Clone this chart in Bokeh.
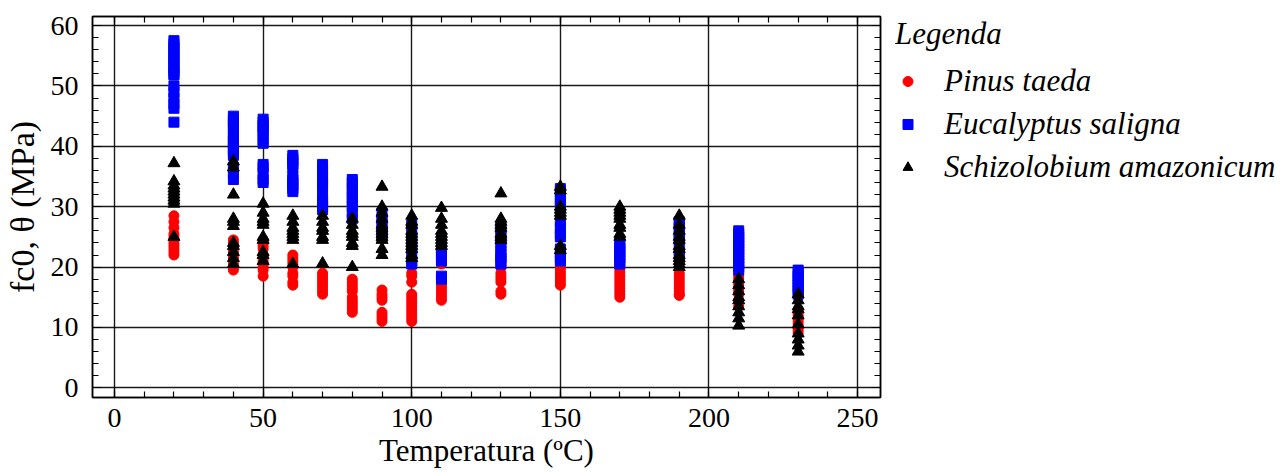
from bokeh.plotting import figure
from bokeh.layouts import row
from bokeh.models import Range1d, LinearAxis, SingleIntervalTicker, Legend, LegendItem, ColumnDataSource
from bokeh.embed import file_html
from bokeh.resources import INLINE

# ---------------- data ----------------
temperatures = [20, 40, 50, 60, 70, 80, 90, 100, 110, 130, 150, 170, 190, 210, 230]

pinus_taeda = [
    [28.5, 27.5, 26.5, 25.5, 25, 24.5, 24, 23.5, 23, 22.5, 22],
    [24.5, 24, 23.5, 23, 22.5, 22, 21.5, 21, 20.5, 20, 19.5],
    [24.5, 24, 23.5, 23, 22, 21.5, 21, 20.5, 20, 19.5, 18.5],
    [22, 21.5, 21, 20.5, 20, 19, 18.5, 17.5, 17],
    [19, 18.5, 18, 17.5, 17, 16.5, 16, 15.5],
    [18, 17.5, 17, 16.5, 16, 15, 14.5, 14, 13.5, 13, 12.5],
    [16.2, 15.5, 15, 14.5, 12.5, 12, 11.5, 11],
    [19, 18.5, 17.5, 15.5, 15, 14.5, 14, 13.5, 13, 12.5, 12, 11.5, 11],
    [20.5, 17.5, 17, 16.5, 16, 15.5, 15, 14.5],
    [20, 19, 18.5, 18, 17.5, 16, 15.5],
    [22, 20, 19.5, 19, 18.5, 18, 17.5, 17],
    [20, 19.5, 19, 18.5, 18, 17.5, 17, 16.5, 16, 15.5, 15],
    [22, 21, 19, 18.5, 18, 17.5, 17, 16.5, 16, 15.5, 15.3],
    [18.5, 18, 17.5, 17, 16.5, 16, 15.5, 14.5, 13.5],
    [13, 12.5, 12, 11.5, 11, 10.5, 10, 9.5, 9],
]

eucalyptus_saligna = [
    [57.5, 57, 56.5, 56, 55.5, 55, 54.5, 54, 53.5, 53, 52.5, 52, 51.8, 50, 49, 48, 47, 46.3, 44],
    [45, 44.5, 44, 43.5, 43, 42, 41.5, 41, 40.5, 40, 39.5, 39, 38.5, 36.5, 35.5, 34.5],
    [44.5, 44, 43.5, 43, 42.5, 42, 41, 40.5, 37, 36.5, 35.5, 34.5, 34],
    [38.5, 38, 37.5, 37, 36.5, 35, 34.5, 34, 33.5, 33, 32.5],
    [37, 36, 35, 34, 33.5, 32, 31, 30.5, 30, 29.5],
    [34.5, 34, 33, 32.5, 31.5, 31, 30, 29, 28],
    [29, 28, 27.5, 27, 26, 25.5, 25],
    [27, 26, 25, 24, 23, 22, 21, 20.5],
    [23, 22.5, 22, 21.5, 21, 18.5, 18],
    [26.5, 25.5, 25, 24, 23.5, 22.5, 22, 21.5, 21, 20.5],
    [33, 32.5, 31.5, 31, 30, 27.5, 26.5, 25.5, 25, 23, 22.5, 21.5, 21],
    [24, 23.5, 23, 22.5, 22, 21.5, 21, 20.5],
    [27.5, 27, 26.5, 25.5, 25, 24.5, 23, 22],
    [26, 25.5, 25, 24.5, 24, 23.5, 23, 22.5, 22, 21.5, 21, 20.5, 20, 19.5],
    [19.5, 19, 18.5, 18, 17.5, 17, 16.5, 16, 15.5],
]

schizolobium_amazonicum = [
    [37.2, 34.2, 33.5, 33, 32.5, 32, 31.5, 31, 30.5, 25],
    [37.5, 36.5, 32, 28, 27.5, 26.8, 24, 23.5, 22.5, 21.5, 20.5],
    [30.5, 29, 28, 27.5, 27, 25, 24.5, 22.5, 22, 21],
    [28.5, 27.5, 26.5, 26, 25.5, 25, 24.5, 20.5],
    [28.5, 27.5, 26.5, 26, 25, 24.5, 20.6],
    [28, 27, 26, 25.5, 25, 24, 23.5, 20],
    [33.3, 30, 29, 28, 27, 26.5, 26, 25.5, 25, 24.5, 23, 22],
    [28.5, 27.5, 27, 26, 25.5, 25, 24.5, 24, 23.5, 23, 22, 21.5],
    [29.8, 28, 27, 26, 25.5, 25, 24.5, 24, 23.5],
    [32.2, 28, 27.5, 27, 26.5, 25.5, 25, 24.5],
    [33.3, 32.7, 30, 29.5, 29, 28.5, 23.5, 22.8],
    [30, 29.5, 29, 28.5, 28, 27, 26.5, 25.5, 25],
    [28.5, 27, 26, 25, 24.5, 23.5, 23, 22, 21.5, 21, 20.5, 20],
    [18, 17, 16, 15, 14.5, 13.5, 12.5, 11.5, 10.3],
    [15.5, 14.5, 13.5, 13, 12, 10.5, 9, 8, 7, 6],
]

series_labels = ["Pinus taeda", "Eucalyptus saligna", "Schizolobium amazonicum"]
series_colors = ["#ff0000", "#0000ff", "black"]
series_markers = ["circle", "square", "triangle"]
x_ticks_interval = 50
y_ticks_interval = 10


def flatten(groups):
    xs, ys = [], []
    for t, vals in zip(temperatures, groups):
        for v in vals:
            xs.append(t)
            ys.append(v)
    return ColumnDataSource(dict(x=xs, y=ys))


FONT = "Liberation Serif"
sources = [flatten(g) for g in (pinus_taeda, eucalyptus_saligna, schizolobium_amazonicum)]

# ---------------- main plot ----------------
p = figure(width=895, height=476,
           x_range=Range1d(-7.4, 257.7), y_range=Range1d(-1.6, 61.5),
           output_backend="svg", toolbar_location=None,
           min_border_left=92, min_border_right=15,
           min_border_top=15, min_border_bottom=79)

xt = SingleIntervalTicker(interval=x_ticks_interval, num_minor_ticks=5)
yt = SingleIntervalTicker(interval=y_ticks_interval, num_minor_ticks=5)

bottom_axis = p.below[0]
left_axis = p.left[0]
bottom_axis.ticker = xt
left_axis.ticker = yt
p.xgrid.ticker = xt
p.ygrid.ticker = yt

top_axis = LinearAxis(ticker=xt)
right_axis = LinearAxis(ticker=yt)
p.add_layout(top_axis, "above")
p.add_layout(right_axis, "right")

for ax in (bottom_axis, left_axis, top_axis, right_axis):
    ax.major_tick_in = 9
    ax.major_tick_out = 0
    ax.minor_tick_in = 6
    ax.minor_tick_out = 0
    ax.axis_line_color = "black"
    ax.axis_line_width = 1.5
    ax.major_tick_line_color = "black"
    ax.minor_tick_line_color = "black"
    ax.major_tick_line_width = 1.2
    ax.minor_tick_line_width = 1.2
    ax.major_label_text_font = FONT
    ax.major_label_text_font_size = "28px"
    ax.major_label_text_color = "black"
    ax.axis_label_text_font = FONT
    ax.axis_label_text_font_style = "normal"
    ax.axis_label_text_color = "black"

for ax in (top_axis, right_axis):
    ax.major_label_text_font_size = "1px"
    ax.major_label_text_color = None
    ax.major_label_standoff = 0

bottom_axis.axis_label = "Temperatura (ºC)"
bottom_axis.axis_label_text_font_size = "31px"
bottom_axis.axis_label_standoff = 3
bottom_axis.major_label_standoff = 11

left_axis.axis_label = "fc0, θ (MPa)"
left_axis.axis_label_text_font_size = "34px"
left_axis.axis_label_standoff = 7
left_axis.major_label_standoff = 14

p.grid.grid_line_color = "black"
p.grid.grid_line_width = 1.4
p.grid.grid_line_alpha = 0.9

p.outline_line_color = "black"
p.outline_line_width = 1.5
p.background_fill_color = "white"
p.border_fill_color = "white"

sizes = {"circle": 10, "square": 10, "triangle": 12}
for src, color, marker in zip(sources, series_colors, series_markers):
    p.scatter("x", "y", source=src, marker=marker,
              size=sizes[marker], fill_color=color, line_color=color)

# ---------------- legend panel (same series, ranges exclude the data) ----------------
lg = figure(width=392, height=476, output_backend="svg", toolbar_location=None,
            x_range=Range1d(1000, 1001), y_range=Range1d(1000, 1001),
            x_axis_type=None, y_axis_type=None,
            min_border_left=0, min_border_right=0, min_border_top=16, min_border_bottom=0)
lg.grid.visible = False
lg.outline_line_color = None
lg.background_fill_color = "white"
lg.border_fill_color = "white"

items = []
for src, label, color, marker in zip(sources, series_labels, series_colors, series_markers):
    r = lg.scatter("x", "y", source=src, marker=marker, size=10,
                   fill_color=color, line_color=color)
    items.append(LegendItem(label=label, renderers=[r]))

legend = Legend(
    items=items,
    location="top_left",
    title="Legenda",
    title_text_font=FONT, title_text_font_style="italic", title_text_font_size="31px",
    title_text_color="black", title_standoff=10,
    label_text_font=FONT, label_text_font_style="italic", label_text_font_size="31px",
    label_text_color="black",
    glyph_width=25, glyph_height=38, label_height=38, label_standoff=24,
    spacing=5, padding=0, margin=0,
    border_line_color=None, background_fill_alpha=0,
)
lg.add_layout(legend)

layout = row(p, lg)
open("out.html", "w").write(file_html(layout, INLINE))
